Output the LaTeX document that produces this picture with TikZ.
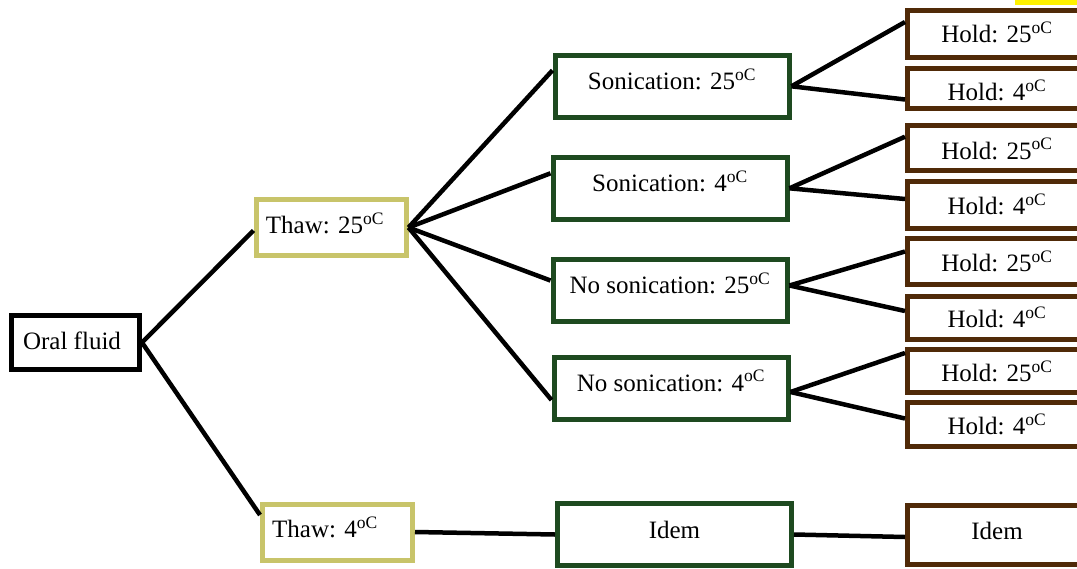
\documentclass[tikz,border=0pt]{standalone}
\usepackage{fontspec}
\setmainfont{Liberation Serif}
\definecolor{olivebox}{RGB}{200,196,106}
\definecolor{greenbox}{RGB}{30,74,32}
\definecolor{brownbox}{RGB}{80,42,8}
\begin{document}
\begin{tikzpicture}[x=1pt,y=-1pt,
  box/.style={draw,line width=5pt,fill=white,inner sep=0pt,font=\fontsize{25}{30}\selectfont},
  r/.style={text height=25pt,text depth={(8.4+2*#1)*1pt}},
  tx/.style={execute at begin node={\hspace*{#1}}},
  rootbox/.style={box,draw=black},
  thawbox/.style={box,draw=olivebox,minimum width=150pt,minimum height=56pt},
  sonbox/.style={box,draw=greenbox,minimum width=234pt,minimum height=62pt,r=5.3},
  holdbox/.style={box,draw=brownbox,minimum width=179pt},
  link/.style={line width=4.5pt,black}]
\useasboundingbox (0,0) rectangle (1077,568);
\clip (0,0) rectangle (1077,568);
\fill[yellow] (1015,0) rectangle (1077,5);

\node[rootbox,minimum width=128pt,minimum height=54pt,r=1.5,tx=-7pt] (oral) at (75.5,342.5) {Oral fluid};
\node[thawbox,r=2,tx=-12pt] (thaw25) at (331,227.5) {Thaw: 25\textsuperscript{oC}};
\node[thawbox,r=3,tx=-25pt] (thaw4) at (337.5,532) {Thaw: 4\textsuperscript{oC}};

\node[sonbox] (son25) at (672,86.3) {Sonication: 25\textsuperscript{oC}};
\node[sonbox] (son4) at (670,188.3) {Sonication: 4\textsuperscript{oC}};
\node[sonbox] (nos25) at (670,290.5) {No sonication: 25\textsuperscript{oC}};
\node[sonbox] (nos4) at (671,388) {No sonication: 4\textsuperscript{oC}};
\node[sonbox,r=4] (idemg) at (674.5,534.5) {Idem};

\node[holdbox,minimum height=47pt,r=0] (h1) at (997,34) {Hold: 25\textsuperscript{oC}};
\node[holdbox,minimum height=40pt,r=-4] (h2) at (997,88.5) {Hold: 4\textsuperscript{oC}};
\node[holdbox,minimum height=45pt,r=-3] (h3) at (997,147.7) {Hold: 25\textsuperscript{oC}};
\node[holdbox,minimum height=47pt,r=-1] (h4) at (997,205) {Hold: 4\textsuperscript{oC}};
\node[holdbox,minimum height=46pt,r=-2] (h5) at (997,261.5) {Hold: 25\textsuperscript{oC}};
\node[holdbox,minimum height=43pt,r=-1] (h6) at (997,318) {Hold: 4\textsuperscript{oC}};
\node[holdbox,minimum height=43pt,r=-2] (h7) at (997,371) {Hold: 25\textsuperscript{oC}};
\node[holdbox,minimum height=44pt,r=-1.5] (h8) at (997,424.5) {Hold: 4\textsuperscript{oC}};
\node[holdbox,minimum height=59pt,r=3.7] (idemb) at (997,535) {Idem};

\draw[link] (oral.east) -- ([yshift=-3pt]thaw25.west);
\draw[link] (oral.east) -- ([yshift=17pt]thaw4.west);
\draw[link] (thaw25.east) -- ([yshift=16pt]son25.west);
\draw[link] (thaw25.east) -- ([yshift=15pt]son4.west);
\draw[link] (thaw25.east) -- ([yshift=10pt]nos25.west);
\draw[link] (thaw25.east) -- ([yshift=-12pt]nos4.west);
\draw[link] (thaw4.east) -- (idemg.west);
\draw[link] (son25.east) -- ([yshift=12pt]h1.west);
\draw[link] (son25.east) -- ([yshift=-11pt]h2.west);
\draw[link] (son4.east) -- ([yshift=11pt]h3.west);
\draw[link] (son4.east) -- ([yshift=6pt]h4.west);
\draw[link] ([yshift=5pt]nos25.east) -- ([yshift=10pt]h5.west);
\draw[link] ([yshift=5pt]nos25.east) -- ([yshift=7pt]h6.west);
\draw[link] ([yshift=-4pt]nos4.east) -- ([yshift=18pt]h7.west);
\draw[link] ([yshift=-4pt]nos4.east) -- ([yshift=6pt]h8.west);
\draw[link] (idemg.east) -- ([yshift=-2pt]idemb.west);
\end{tikzpicture}
\end{document}
